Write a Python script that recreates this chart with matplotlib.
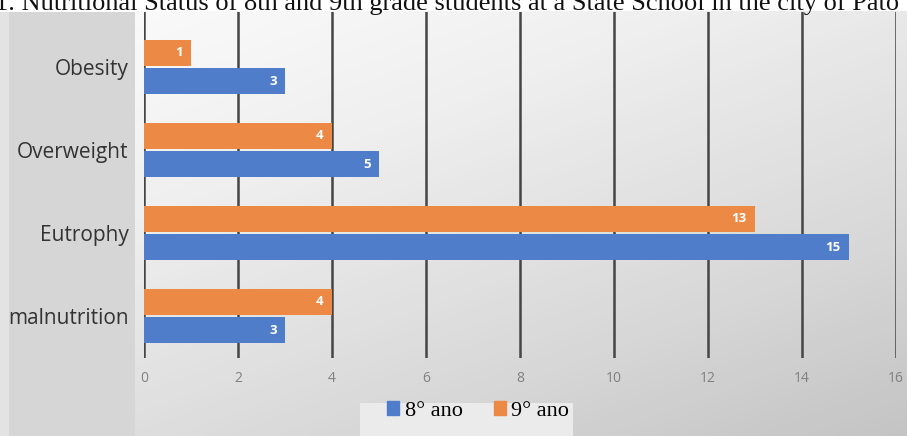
import matplotlib.pyplot as plt
import numpy as np
from matplotlib.patches import Patch

# data (bottom to top, as drawn)
categories = ["malnutrition", "Eutrophy", "Overweight", "Obesity"]
grade8 = [3, 15, 5, 3]
grade9 = [4, 13, 4, 1]
series_names = ["8° ano", "9° ano"]
xticks = [0, 2, 4, 6, 8, 10, 12, 14, 16]
title = "1. Nutritional Status of 8th and 9th grade students at a State School in the city of Pato"

BLUE = "#4f7dca"
ORANGE = "#ec8a45"
W, H = 907, 436

fig = plt.figure(figsize=(W / 100, H / 100), dpi=100)

# background: white top strip, grey label panel, gradient plot area
bg = fig.add_axes([0, 0, 1, 1], zorder=-2)
bg.set_xlim(0, W)
bg.set_ylim(H, 0)
bg.axis("off")
bg.add_patch(plt.Rectangle((0, 12), 9, H - 12, color="#e3e3e3", lw=0))
bg.add_patch(plt.Rectangle((9, 12), 126, H - 12, color="#d6d6d6", lw=0))
gx = np.linspace(0, 1, 200)
gy = np.linspace(0, 1, 100)
gxx, gyy = np.meshgrid(gx, gy)
grad = 0.6 * gyy + 0.4 * gxx
bg.imshow(grad, extent=(135, W, H, 12), cmap="Greys", vmin=-0.15, vmax=3.2,
          aspect="auto", interpolation="bicubic")
bg.add_patch(plt.Rectangle((360, 403), 213, H - 403, color="#ebebeb", lw=0))

# title is cut off by the top edge in the original screenshot
fig.text(-0.006, 1 - 10 / H, title, family="Liberation Serif", fontsize=19,
         ha="left", va="baseline", color="#111111")

left, right = 144 / W, 896 / W
bottom, top = 1 - 358 / H, 1 - 12 / H
ax = fig.add_axes([left, bottom, right - left, top - bottom])
ax.patch.set_alpha(0)

y = np.arange(len(categories))
h = 0.31
off = 0.17
b8 = ax.barh(y - off, grade8, height=h, color=BLUE, zorder=3)
b9 = ax.barh(y + off, grade9, height=h, color=ORANGE, zorder=3)

for bars in (b8, b9):
    for bar in bars:
        v = bar.get_width()
        ax.annotate(f"{v:g}", (v, bar.get_y() + bar.get_height() / 2),
                    xytext=(-6, 0), textcoords="offset points",
                    ha="right", va="center", color="white",
                    fontsize=9.5, fontweight="bold", family="Open Sans", zorder=4)

ax.set_xlim(0, 16)
ax.set_ylim(-0.506, 3.663)
ax.set_xticks(xticks)
ax.set_xticklabels([str(t) for t in xticks], color="#808080", fontsize=10,
                   family="Open Sans")
ax.set_yticks(y)
ax.set_yticklabels(categories, fontsize=15, family="Open Sans", color="#333333")
ax.tick_params(axis="x", length=0, pad=9)
ax.tick_params(axis="y", length=0, pad=11)
for t in xticks:
    ax.axvline(t, color="#454545", lw=1.8, zorder=2)
for s in ax.spines.values():
    s.set_visible(False)

handles = [Patch(color=BLUE), Patch(color=ORANGE)]
fig.legend(handles, series_names, loc="center", bbox_to_anchor=(478 / W, 1 - 411 / H),
           ncol=2, frameon=False, handlelength=0.55, handleheight=0.55,
           handletextpad=0.25, columnspacing=1.4,
           prop={"family": "Liberation Serif", "size": 16})

fig.savefig("out.png", dpi=100)
